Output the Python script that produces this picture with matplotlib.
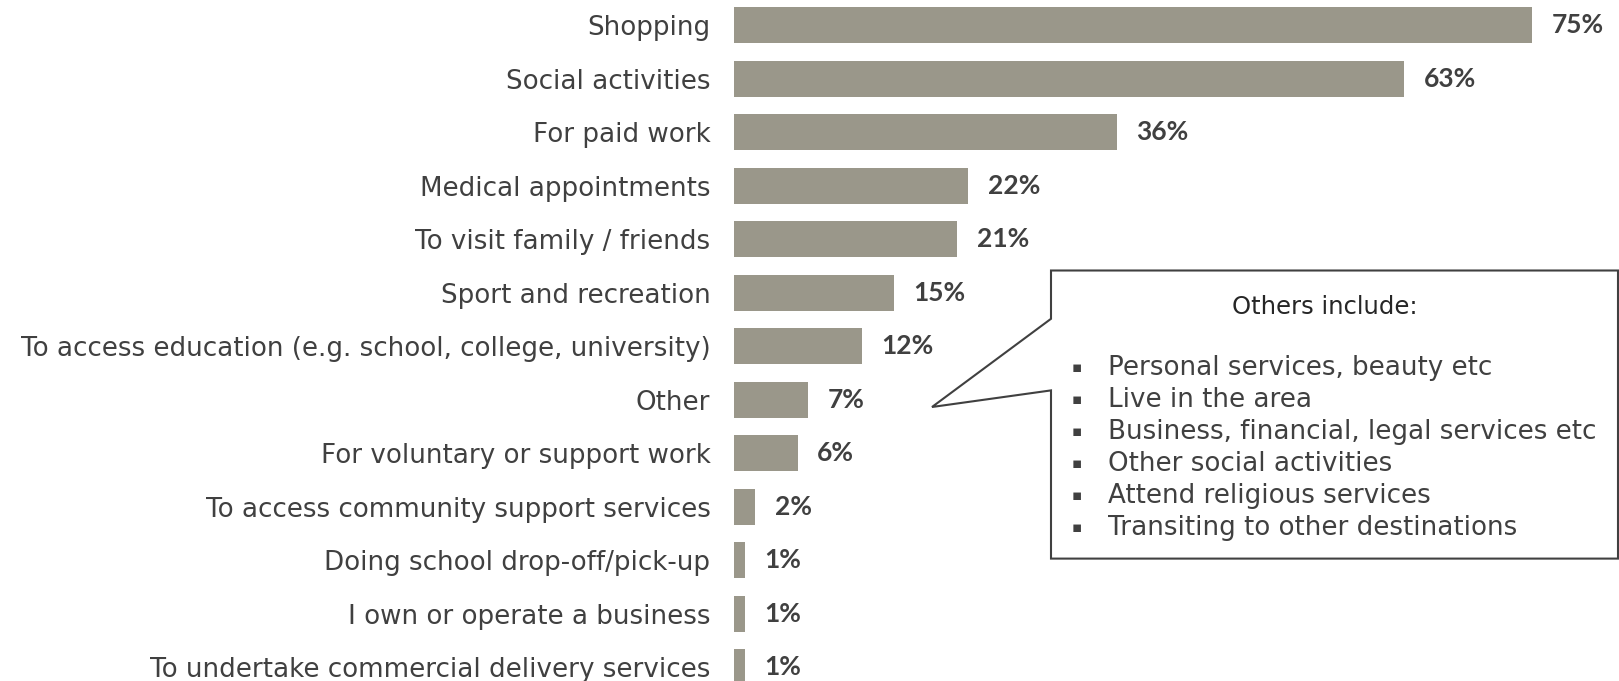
import matplotlib
matplotlib.use("Agg")
import matplotlib.pyplot as plt
from matplotlib.patches import Polygon

# Data
categories = [
    "Shopping",
    "Social activities",
    "For paid work",
    "Medical appointments",
    "To visit family / friends",
    "Sport and recreation",
    "To access education (e.g. school, college, university)",
    "Other",
    "For voluntary or support work",
    "To access community support services",
    "Doing school drop-off/pick-up",
    "I own or operate a business",
    "To undertake commercial delivery services",
]
values = [75, 63, 36, 22, 21, 15, 12, 7, 6, 2, 1, 1, 1]

others_title = "Others include:"
others_items = [
    "Personal services, beauty etc",
    "Live in the area",
    "Business, financial, legal services etc",
    "Other social activities",
    "Attend religious services",
    "Transiting to other destinations",
]

bar_color = "#9a978a"
text_color = "#404040"
W, H = 1619, 681

fig = plt.figure(figsize=(W / 100, H / 100), dpi=100)
ax = fig.add_axes([734 / W, 0, 1 - 734 / W, 1])

y = list(range(len(categories)))
ax.barh(y, values, height=0.67, color=bar_color)
ax.set_xlim(0, (W - 734) / 10.64)
ax.set_ylim((H - 25.3) / 53.5, -25.3 / 53.5)

ax.set_yticks(y)
ax.set_yticklabels(categories, fontsize=18.8, color=text_color, family=["DejaVu Sans"])
ax.tick_params(axis="y", length=0, pad=17)
ax.set_xticks([])
for s in ax.spines.values():
    s.set_visible(False)

for yi, v in zip(y, values):
    ax.annotate(f"{v}%", (v, yi), xytext=(14, 0), textcoords="offset points",
                ha="left", va="center", fontsize=19, fontweight="bold", color=text_color,
                family=["Lato", "DejaVu Sans"])

# callout box with pointer (figure pixel coords, y from top)
pts = [(1051, 270.5), (1618, 270.5), (1618, 558.6), (1051, 558.6),
       (1051, 390.4), (932, 407), (1051, 318.8)]
poly = Polygon([(x / W, 1 - yy / H) for x, yy in pts], closed=True,
               transform=fig.transFigure, facecolor="white", edgecolor="#404040", linewidth=1.5)
fig.add_artist(poly)

fig.text(1325 / W, 1 - 306.5 / H, others_title, ha="center", va="center",
         fontsize=17.5, color="#262626", family=["DejaVu Sans"])
for i, item in enumerate(others_items):
    yy = 1 - (368 + 32 * i) / H
    fig.text(1077 / W, yy, "\u25aa", ha="center", va="center", fontsize=11, color=text_color,
             family=["DejaVu Sans"])
    fig.text(1108 / W, yy, item, ha="left", va="center", fontsize=18.8, color=text_color,
             family=["DejaVu Sans"])

fig.savefig("out.png", dpi=100)
